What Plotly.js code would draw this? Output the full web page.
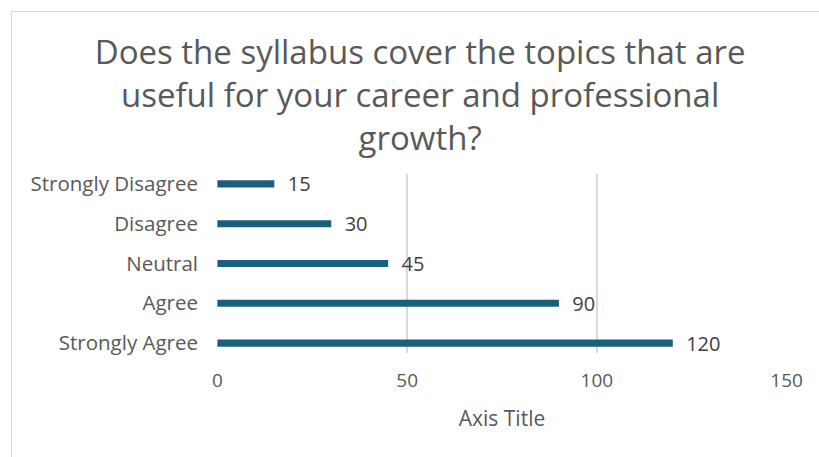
<!DOCTYPE html>
<html>
<head>
<meta charset="utf-8">
<script src="https://cdn.plot.ly/plotly-3.0.1.min.js"></script>
<style>
  html, body { margin: 0; padding: 0; background: #ffffff; }
  #frame { position: absolute; left: 11px; top: 11px; width: 900px; height: 500px; border: 1px solid #d9d9d9; box-sizing: border-box; }
  #chart { position: absolute; left: 0; top: 0; width: 819px; height: 457px; }
</style>
</head>
<body>
<div id="frame"></div>
<div id="chart"></div>
<script>
const categories = ["Strongly Agree", "Agree", "Neutral", "Disagree", "Strongly Disagree"];
const values = [120, 90, 45, 30, 15];
const xTicks = [0, 50, 100, 150];
const titleText = "Does the syllabus cover the topics that are<br>useful for your career and professional<br>growth?";
const xAxisTitle = "Axis Title";

const fontFam = "'Open Sans', 'Liberation Sans', Arial, sans-serif";

const trace = {
  type: "bar",
  orientation: "h",
  y: categories,
  x: values,
  width: 0.18,
  marker: { color: "#1a5e80" },
  texttemplate: "  %{x}",
  textposition: "outside",
  constraintext: "none",
  textfont: { family: fontFam, size: 20, color: "#404040" },
  cliponaxis: false,
  hoverinfo: "none"
};

const layout = {
  width: 819, height: 457,
  paper_bgcolor: "rgba(0,0,0,0)",
  plot_bgcolor: "rgba(0,0,0,0)",
  margin: { l: 217, r: 32, t: 174, b: 104 },
  showlegend: false,
  title: {
    text: titleText,
    font: { family: fontFam, size: 33, color: "#595959" },
    x: 0.513, xanchor: "center",
    y: 0.86, yanchor: "middle"
  },
  xaxis: {
    range: [-0.1, 150.1],
    tickvals: xTicks,
    showgrid: true, gridcolor: "#d9d9d9", gridwidth: 1.5,
    zeroline: false, showline: false,
    tickfont: { family: fontFam, size: 19, color: "#595959" },
    ticklabelstandoff: 14,
    title: { text: xAxisTitle, font: { family: fontFam, size: 21, color: "#595959" }, standoff: 19 },
    fixedrange: true
  },
  yaxis: {
    type: "category",
    range: [-0.25, 4.25],
    showgrid: false, zeroline: false, showline: false,
    tickfont: { family: fontFam, size: 20.5, color: "#595959" },
    ticklabelstandoff: 18,
    fixedrange: true
  }
};

Plotly.newPlot("chart", [trace], layout, { displayModeBar: false, staticPlot: true });
</script>
</body>
</html>
